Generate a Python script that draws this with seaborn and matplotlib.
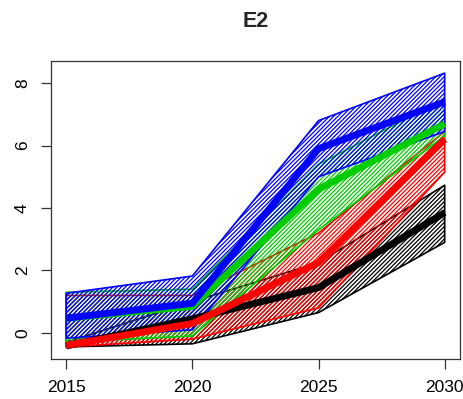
import matplotlib
matplotlib.use("Agg")
import matplotlib.pyplot as plt
import seaborn as sns
import pandas as pd

# Projection years
years = [2015, 2020, 2025, 2030]

# Scenario bands (lower / upper) and central paths
black_low = [-0.45, -0.35, 0.65, 2.90]
black_high = [-0.30, 1.00, 2.25, 4.73]
black_mid = [-0.42, 0.45, 1.45, 3.85]

red_low = [-0.45, -0.20, 0.80, 5.15]
red_high = [1.20, 1.20, 3.20, 6.45]
red_mid = [-0.40, 0.30, 2.25, 6.20]

green_low = [-0.30, -0.10, 3.30, 6.30]
green_high = [1.30, 1.40, 5.40, 7.50]
green_mid = [0.47, 0.85, 4.60, 6.70]

blue_low = [-0.17, 0.10, 5.00, 6.45]
blue_high = [1.27, 1.82, 6.80, 8.32]
blue_mid = [0.47, 0.95, 5.90, 7.40]

groups = [
    ("black", black_low, black_high, black_mid),
    ("#ff0000", red_low, red_high, red_mid),
    ("#00cc00", green_low, green_high, green_mid),
    ("#0000ff", blue_low, blue_high, blue_mid),
]

sns.set_style("ticks")
plt.rcParams["font.family"] = ["Liberation Sans", "DejaVu Sans"]
plt.rcParams["hatch.linewidth"] = 0.9

fig = plt.figure(figsize=(4.64, 3.99), dpi=100)
ax = fig.add_axes([0.110, 0.100, 0.881, 0.748])

for color, low, high, mid in groups:
    ax.fill_between(years, low, high, facecolor="none", edgecolor=color,
                    hatch="////////", linewidth=1.2)
    df = pd.DataFrame({"year": years, "value": mid})
    sns.lineplot(data=df, x="year", y="value", ax=ax, color=color,
                 linewidth=5.0, solid_capstyle="butt")

ax.set_xlim(2014.4, 2030.6)
ax.set_ylim(-0.84, 8.72)
ax.set_xticks(years)
ax.set_yticks([0, 2, 4, 6, 8])
ax.set_xlabel("")
ax.set_ylabel("")
ax.tick_params(axis="both", direction="out", length=7.2, width=0.9,
               labelsize=12.5, colors="#333333", labelcolor="black")
ax.tick_params(axis="x", pad=8)
ax.tick_params(axis="y", pad=8)
for lab in ax.get_yticklabels():
    lab.set_rotation(90)
    lab.set_va("center")
for sp in ax.spines.values():
    sp.set_visible(True)
    sp.set_color("#333333")
    sp.set_linewidth(0.9)

ax.set_title("E2", fontsize=15.5, fontweight="bold", pad=24)

fig.savefig("out.png", dpi=100)
